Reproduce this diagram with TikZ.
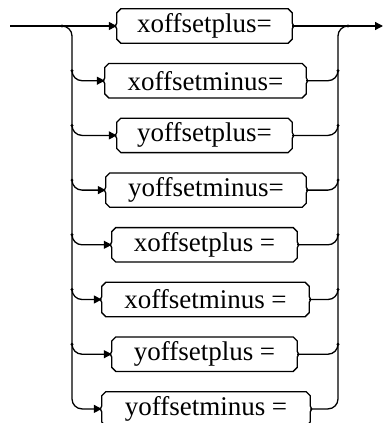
\documentclass[tikz,border=0pt]{standalone}
\usepackage{fontspec}
\setmainfont{Liberation Serif}
\usetikzlibrary{arrows.meta,calc}
\tikzset{
  line/.style={line width=1.3pt},
  arr/.style={line, -{Triangle[length=8pt,width=8pt]}},
  term/.style={inner sep=0pt, font=\fontsize{27}{30}\selectfont, minimum height=34pt},
  jdot/.style={circle, fill, inner sep=0pt, minimum size=3.2pt},
}
\newcommand\termbox[1]{\draw[line]
  ([xshift=4pt]#1.north west) -- ([xshift=-4pt]#1.north east) -- ([yshift=-4pt]#1.north east)
  -- ([yshift=3pt]#1.east) -- ([xshift=1.5pt]#1.east) -- ([yshift=-3pt]#1.east)
  -- ([yshift=4pt]#1.south east) -- ([xshift=-4pt]#1.south east) -- ([xshift=4pt]#1.south west)
  -- ([yshift=4pt]#1.south west) -- ([yshift=-3pt]#1.west) -- ([xshift=-1.5pt]#1.west)
  -- ([yshift=3pt]#1.west) -- ([yshift=-4pt]#1.north west) -- cycle;}
\begin{document}
\begin{tikzpicture}[x=1pt,y=-1pt]
\useasboundingbox (0,0) rectangle (383,423);
\clip (0,0) rectangle (383,423);
\node[term, minimum width=175pt] (t1) at (204.5,26)    {xoffsetplus=};
\node[term, minimum width=201pt] (t2) at (205.5,80.7)  {xoffsetminus=};
\node[term, minimum width=175pt] (t3) at (204.5,135.4) {yoffsetplus=};
\node[term, minimum width=200pt] (t4) at (206,190.1)   {yoffsetminus=};
\node[term, minimum width=185pt] (t5) at (204.5,244.8) {xoffsetplus =};
\node[term, minimum width=207pt] (t6) at (205.5,299.5) {xoffsetminus =};
\node[term, minimum width=185pt] (t7) at (204.5,354.2) {yoffsetplus =};
\node[term, minimum width=208pt] (t8) at (206,408.9)   {yoffsetminus =};
\foreach \i in {1,...,8} {\termbox{t\i}}
\coordinate (start) at (10,26);
\coordinate (end) at (383,26);
\coordinate (jl) at (62,26);
\coordinate (jr) at (348,26);
\coordinate (lb) at (72,408.9);
\coordinate (rb) at (338,408.9);
\draw[arr] (start) -- (t1.west);
\draw[arr] (t1.east) -- (end);
\draw[arr, rounded corners=10pt] (jl) -| (lb) -- (t8.west);
\draw[line, rounded corners=10pt] (t8.east) -- (rb) |- (jr);
\node[jdot] (dl1) at (jl) {};
\node[jdot] (dr1) at (jr) {};
\foreach \i in {2,...,7} {
  \draw[arr, rounded corners=10pt] ($(t\i.west -| lb)+(0,-10)$) |- (t\i.west);
  \node[jdot] (dl\i) at ($(t\i.west -| lb)+(0,-10)$) {};
  \draw[line, rounded corners=10pt] (t\i.east) -| ($(t\i.east -| rb)+(0,-10)$);
  \node[jdot] (dr\i) at ($(t\i.east -| rb)+(0,-10)$) {};
}
\end{tikzpicture}
\end{document}
